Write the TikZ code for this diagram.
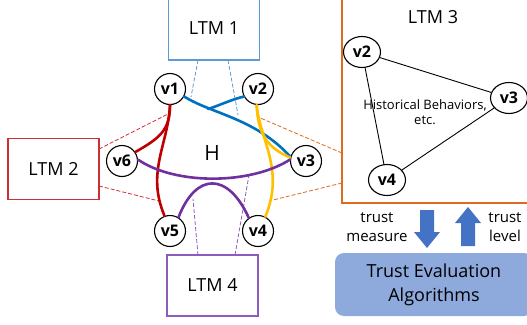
\documentclass[tikz,border=0pt]{standalone}
\usepackage{fontspec}
\setmainfont{Open Sans}
\usetikzlibrary{shapes.geometric}
\definecolor{ltmblue}{HTML}{5B9BD5}
\definecolor{ltmred}{HTML}{CC2F35}
\definecolor{ltmpurple}{HTML}{8E5CBF}
\definecolor{ltmorange}{HTML}{DD6B22}
\definecolor{cblue}{HTML}{0070C0}
\definecolor{cred}{HTML}{C00000}
\definecolor{cyellow}{HTML}{FFC000}
\definecolor{cpurple}{HTML}{7030A0}
\definecolor{arrowblue}{HTML}{4472C4}
\definecolor{teafill}{HTML}{8EA9DB}
\begin{document}
\begin{tikzpicture}[x=1pt,y=-1pt,
  ltmbox/.style={draw=#1, line width=1.3pt, inner sep=0pt, minimum width=91pt, minimum height=61pt,
    font=\fontsize{18}{22}\selectfont},
  vert/.style={circle, draw=black, line width=1.1pt, fill=white, minimum size=31pt, inner sep=0pt,
    font=\fontsize{16}{16}\selectfont\bfseries},
  tvert/.style={ellipse, draw=black, line width=1.1pt, fill=white, minimum width=37pt, minimum height=31pt, inner sep=0pt,
    font=\fontsize{16}{16}\selectfont\bfseries},
  hedge/.style={line width=2.6pt, line cap=round},
  dline/.style={line width=0.8pt, dash pattern=on 4pt off 2pt},
  lbl/.style={inner sep=0pt, align=center, font=\fontsize{15}{19}\selectfont}
]
\useasboundingbox (0,0) rectangle (527,324);
\clip (0,0) rectangle (527,324);

% LTM boxes
\node[ltmbox=ltmblue, minimum height=70pt] (ltm1) at (214,25) {};
\node[inner sep=0pt, font=\fontsize{18}{22}\selectfont] (ltm1t) at (214,28) {LTM 1};
\node[ltmbox=ltmred] (ltm2) at (53.5,169) {LTM 2};
\node[ltmbox=ltmpurple] (ltm4) at (212.5,285.5) {LTM 4};
\node[draw=ltmorange, line width=1.3pt, inner sep=0pt, minimum width=200pt, minimum height=220pt] (ltm3) at (442,93) {};
\node[inner sep=0pt, font=\fontsize{18}{22}\selectfont] (ltm3t) at (433,17) {LTM 3};

% dashed link coordinates
\coordinate (d1a) at (198,60); \coordinate (e1a) at (191,97);
\coordinate (d1b) at (228,60); \coordinate (e1b) at (238,115);
\coordinate (d2a) at (99,149); \coordinate (e2a) at (168,114);
\coordinate (d2b) at (99,186); \coordinate (e2b) at (159,201);
\coordinate (d4a) at (198,255); \coordinate (e4a) at (193,199);
\coordinate (d4b) at (235,255); \coordinate (e4b) at (249,175);
\coordinate (d3a) at (342,153); \coordinate (e3a) at (258,117);
\coordinate (d3b) at (342,183); \coordinate (e3b) at (269,201);

\draw[dline, ltmblue] (d1a) -- (e1a);
\draw[dline, ltmblue] (d1b) -- (e1b);
\draw[dline, ltmred] (d2a) -- (e2a);
\draw[dline, ltmred] (d2b) -- (e2b);
\draw[dline, ltmpurple] (d4a) -- (e4a);
\draw[dline, ltmpurple] (d4b) -- (e4b);
\draw[dline, ltmorange] (d3a) -- (e3a);
\draw[dline, ltmorange] (d3b) -- (e3b);

% hypergraph vertices
\node[vert] (v1) at (170,89) {v1};
\node[vert] (v2) at (258,89) {v2};
\node[vert] (v3) at (306,161) {v3};
\node[vert] (v6) at (122,161) {v6};
\node[vert] (v5) at (170,231) {v5};
\node[vert] (v4) at (258,231) {v4};
\node[inner sep=0pt, font=\fontsize{21}{24}\selectfont] (H) at (212,153) {H};

\coordinate (bj) at (208,109);
\coordinate (pj) at (212,180);

% hyperedges
\draw[hedge, cblue] (v1.-28) .. controls (212,114) and (255,118) .. (v3.165);
\draw[hedge, cblue] (v2.208) .. controls (230,100) and (218,106) .. (bj);
\draw[hedge, cyellow] (v2.-95) .. controls (258,135) and (268,148) .. (v3.168);
\draw[hedge, cyellow] (v2.-95) .. controls (260,140) and (285,170) .. (v4.63);
\draw[hedge, cred] (v1.-90) .. controls (170,130) and (160,138) .. (v6.34);
\draw[hedge, cred] (v1.-90) .. controls (168,145) and (146,172) .. (v5.110);
\draw[hedge, cpurple] (v6.5) .. controls (175,185) and (250,185) .. (v3.175);
\draw[hedge, cpurple] (v5.58) .. controls (196,172) and (228,172) .. (v4.125);

% LTM 3 content
\node[tvert] (u2) at (362,52) {v2};
\node[tvert] (u3) at (509,98) {v3};
\node[tvert] (u4) at (387,180) {v4};
\draw[line width=0.9pt] (u2) -- (u3);
\draw[line width=0.9pt] (u3) -- (u4);
\draw[line width=0.9pt] (u4) -- (u2);
\node[inner sep=0pt, align=center, font=\fontsize{13}{15}\selectfont] (hist) at (425,112) {Historical Behaviors,\\etc.};

% arrows
\fill[arrowblue] (420,210) -- (434,210) -- (434,232) -- (440,232) -- (427,248) -- (414,232) -- (420,232) -- cycle;
\fill[arrowblue] (461,246) -- (475,246) -- (475,223) -- (481,223) -- (468,207) -- (455,223) -- (461,223) -- cycle;
\node[lbl] (tm) at (377,227) {trust\\measure};
\node[lbl] (tl) at (505,227) {trust\\level};

% trust evaluation box
\node[fill=teafill, rounded corners=9pt, minimum width=198pt, minimum height=63pt, inner sep=0pt, align=center,
  font=\fontsize{18}{24}\selectfont] (tea) at (434,284.5) {Trust Evaluation\\Algorithms};
\end{tikzpicture}
\end{document}
